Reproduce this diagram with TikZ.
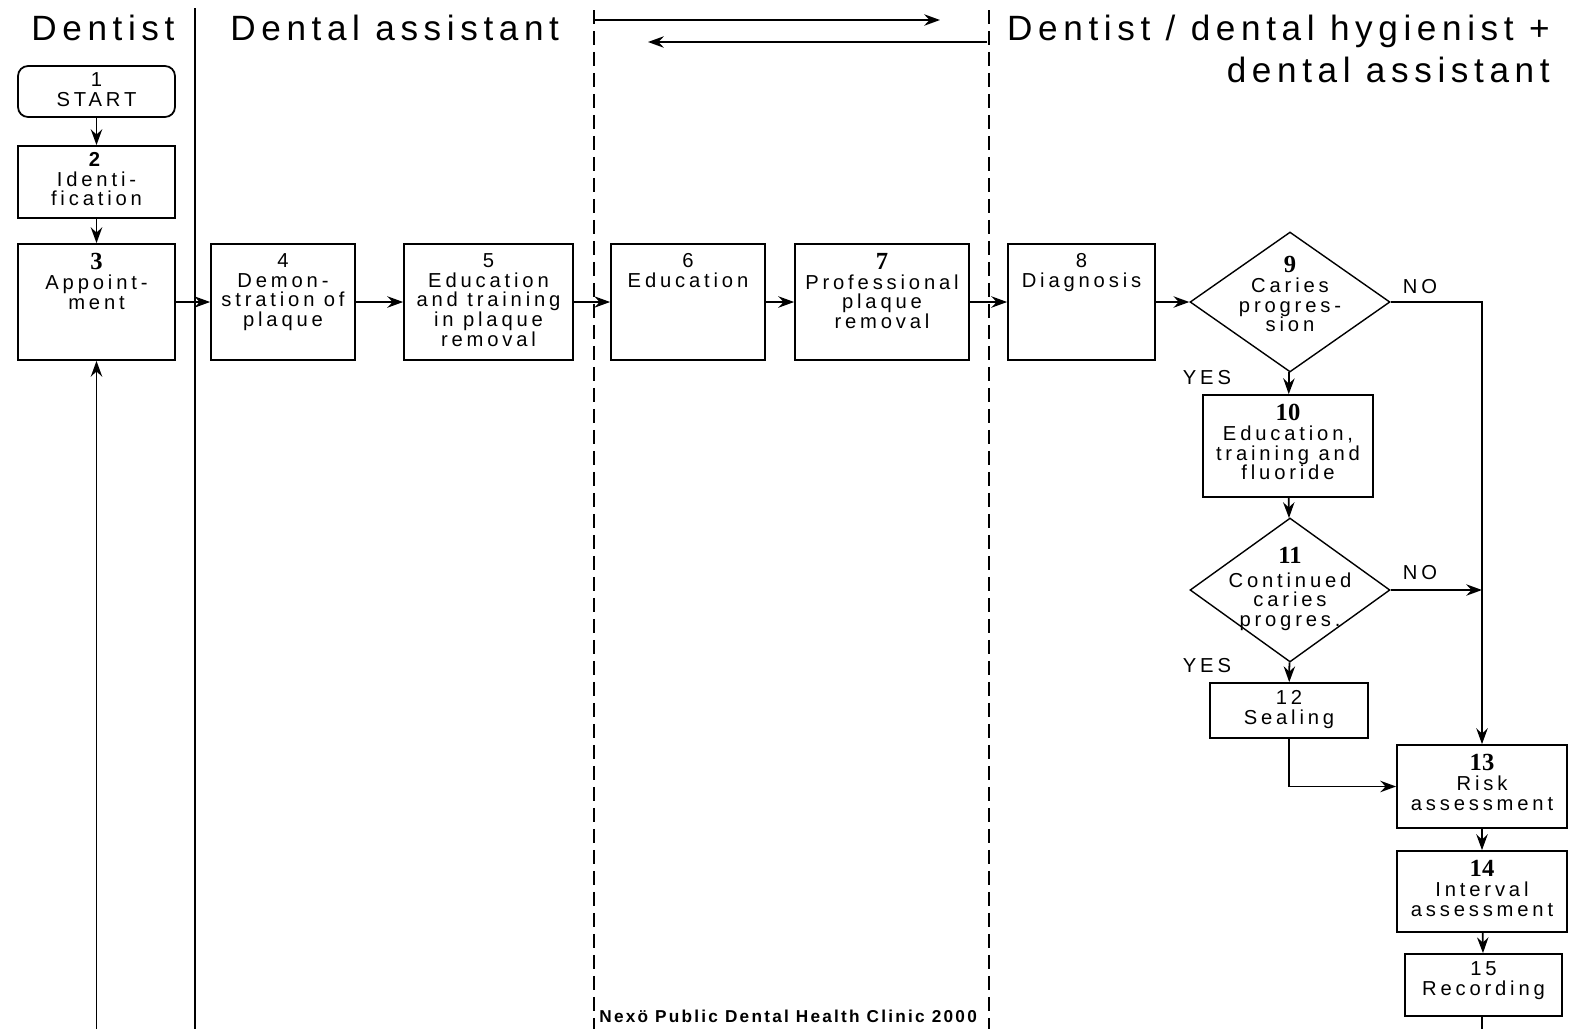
\documentclass[tikz,border=0pt]{standalone}
\usepackage{fontspec}
\setmainfont{Liberation Sans}[LetterSpace=16]
\newfontfamily\numfont{Liberation Serif}
\usetikzlibrary{arrows.meta,shapes.geometric}

\newcommand{\boxfont}{\fontsize{11.5}{11.2}\selectfont\addfontfeature{LetterSpace=19}}
\newcommand{\headfont}{\fontsize{20}{21}\selectfont}
\newcommand{\nr}[1]{{\numfont\fontsize{14}{12}\selectfont\bfseries #1}}

\tikzset{
  box/.style={draw, line width=1pt, inner sep=0pt},
  decision/.style={draw, diamond, line width=0.8pt, inner sep=0pt, minimum width=4cm},
  boxtext/.style={anchor=north, align=center, inner sep=0pt, yshift=-0.2cm, font=\boxfont},
  dectext/.style={anchor=north, align=center, inner sep=0pt, yshift=-0.5cm, font=\boxfont},
  head/.style={font=\headfont, inner sep=0pt},
  lane/.style={line width=1pt},
  lanedash/.style={line width=1pt, dash pattern=on 0.28cm off 0.14cm},
  flow/.style={line width=1pt, ->},
  yesno/.style={font=\boxfont, inner sep=0pt, anchor=base},
}

\begin{document}
\begin{tikzpicture}[x=0.02cm, y=-0.02cm, >={Stealth[length=9pt,width=6.5pt,inset=3pt]}]
  \useasboundingbox (0,0) rectangle (1570,1029);
  % swim lanes
  \node[head, anchor=base west] (hdentist) at (31,40) {Dentist};
  \node[head, anchor=base west] (hassist) at (230,40) {Dental assistant};
  \node[head, anchor=base east] (hteam) at (1550,40) {Dentist / dental hygienist +};
  \node[head, anchor=base east] (hteamb) at (1550,82) {dental assistant};
  \draw[lane] (195,8) -- (195,1029);
  \draw[lanedash] (594,10) -- (594,1029);
  \draw[lanedash] (989,10) -- (989,1029);
  \coordinate (fwdA) at (594,20);
  \coordinate (fwdB) at (940,20);
  \coordinate (backA) at (987,42);
  \coordinate (backB) at (648,42);
  \draw[flow] (fwdA) -- (fwdB);
  \draw[flow] (backA) -- (backB);

  % steps
  \node[box, rounded corners=0.2cm, minimum width=3.14cm, minimum height=1.02cm,
        label={[boxtext, yshift=0.06cm]north:{1\\START}}] (start) at (96.5,91.5) {};
  \node[box, minimum width=3.14cm, minimum height=1.44cm,
        label={[boxtext, yshift=0.06cm]north:{\textbf{2}\\Identi-\\fication}}] (ident) at (96.5,182) {};
  \node[box, minimum width=3.14cm, minimum height=2.32cm,
        label={[boxtext]north:{\nr{3}\\Appoint-\\ment}}] (appoint) at (96.5,302) {};
  \node[box, minimum width=2.88cm, minimum height=2.32cm,
        label={[boxtext]north:{4\\Demon-\\stration of\\plaque}}] (demo) at (283,302) {};
  \node[box, minimum width=3.38cm, minimum height=2.32cm,
        label={[boxtext]north:{5\\Education\\and training\\in plaque\\removal}}] (train) at (488.5,302) {};
  \node[box, minimum width=3.08cm, minimum height=2.32cm,
        label={[boxtext]north:{6\\Education}}] (educ) at (688,302) {};
  \node[box, minimum width=3.48cm, minimum height=2.32cm,
        label={[boxtext]north:{\nr{7}\\Professional\\plaque\\removal}}] (prof) at (882,302) {};
  \node[box, minimum width=2.94cm, minimum height=2.32cm,
        label={[boxtext]north:{8\\Diagnosis}}] (diag) at (1081.5,302) {};
  \node[decision, minimum height=2.8cm,
        label={[dectext]north:{\nr{9}\\Caries\\progres-\\sion}}] (caries) at (1290,302) {};
  \node[box, minimum width=3.40cm, minimum height=2.04cm,
        label={[boxtext]north:{\nr{10}\\Education,\\training and\\fluoride}}] (fluor) at (1288,446) {};
  \node[decision, minimum height=2.88cm,
        label={[dectext, yshift=-0.1cm]north:{\nr{11}\\[2pt]Continued\\caries\\progres.}}] (contin) at (1290,590) {};
  \node[box, minimum width=3.16cm, minimum height=1.10cm,
        label={[boxtext, yshift=0.04cm]north:{12\\Sealing}}] (seal) at (1289,710.5) {};
  \node[box, minimum width=3.40cm, minimum height=1.66cm,
        label={[boxtext]north:{\nr{13}\\Risk\\assessment}}] (risk) at (1482,786.5) {};
  \node[box, minimum width=3.40cm, minimum height=1.62cm,
        label={[boxtext]north:{\nr{14}\\Interval\\assessment}}] (interval) at (1482,891.5) {};
  \node[box, minimum width=3.14cm, minimum height=1.24cm,
        label={[boxtext, yshift=0.04cm]north:{15\\Recording}}] (record) at (1483.5,985) {};

  % answers
  \node[yesno] (no1) at (1420,293) {NO};
  \node[yesno] (yes1) at (1207,384) {YES};
  \node[yesno] (no2) at (1420,579) {NO};
  \node[yesno] (yes2) at (1207,672) {YES};

  % flow
  \draw[flow] (start) -- (ident);
  \draw[flow] (ident) -- (appoint);
  \draw[flow] (appoint) -- (demo);
  \draw[flow] (demo) -- (train);
  \draw[flow] (train) -- (educ);
  \draw[flow] (educ) -- (prof);
  \draw[flow] (prof) -- (diag);
  \draw[flow] (diag) -- (caries);
  \draw[flow] (caries) -- (fluor);
  \draw[flow] (caries.east) -| (risk.north);
  \draw[flow] (fluor) -- (contin);
  \draw[flow] (contin) -- (seal);
  \draw[flow] (contin.east) -- (contin.east -| risk.north);
  \draw[flow] (seal.south) |- (risk.west);
  \draw[flow] (risk) -- (interval);
  \draw[flow] (interval) -- (record);
  \coordinate (loopR) at (1482,1029);
  \coordinate (loopL) at (96.5,1029);
  \draw[line width=1pt] (record.south -| risk.south) -- (loopR);
  \draw[flow] (loopL) -- (appoint.south);

  \node[font=\fontsize{9.8}{9.8}\selectfont\bfseries\addfontfeature{LetterSpace=13}, anchor=base west, inner sep=0pt] (credit) at (599,1022) {Nexö Public Dental Health Clinic 2000};
\end{tikzpicture}
\end{document}
